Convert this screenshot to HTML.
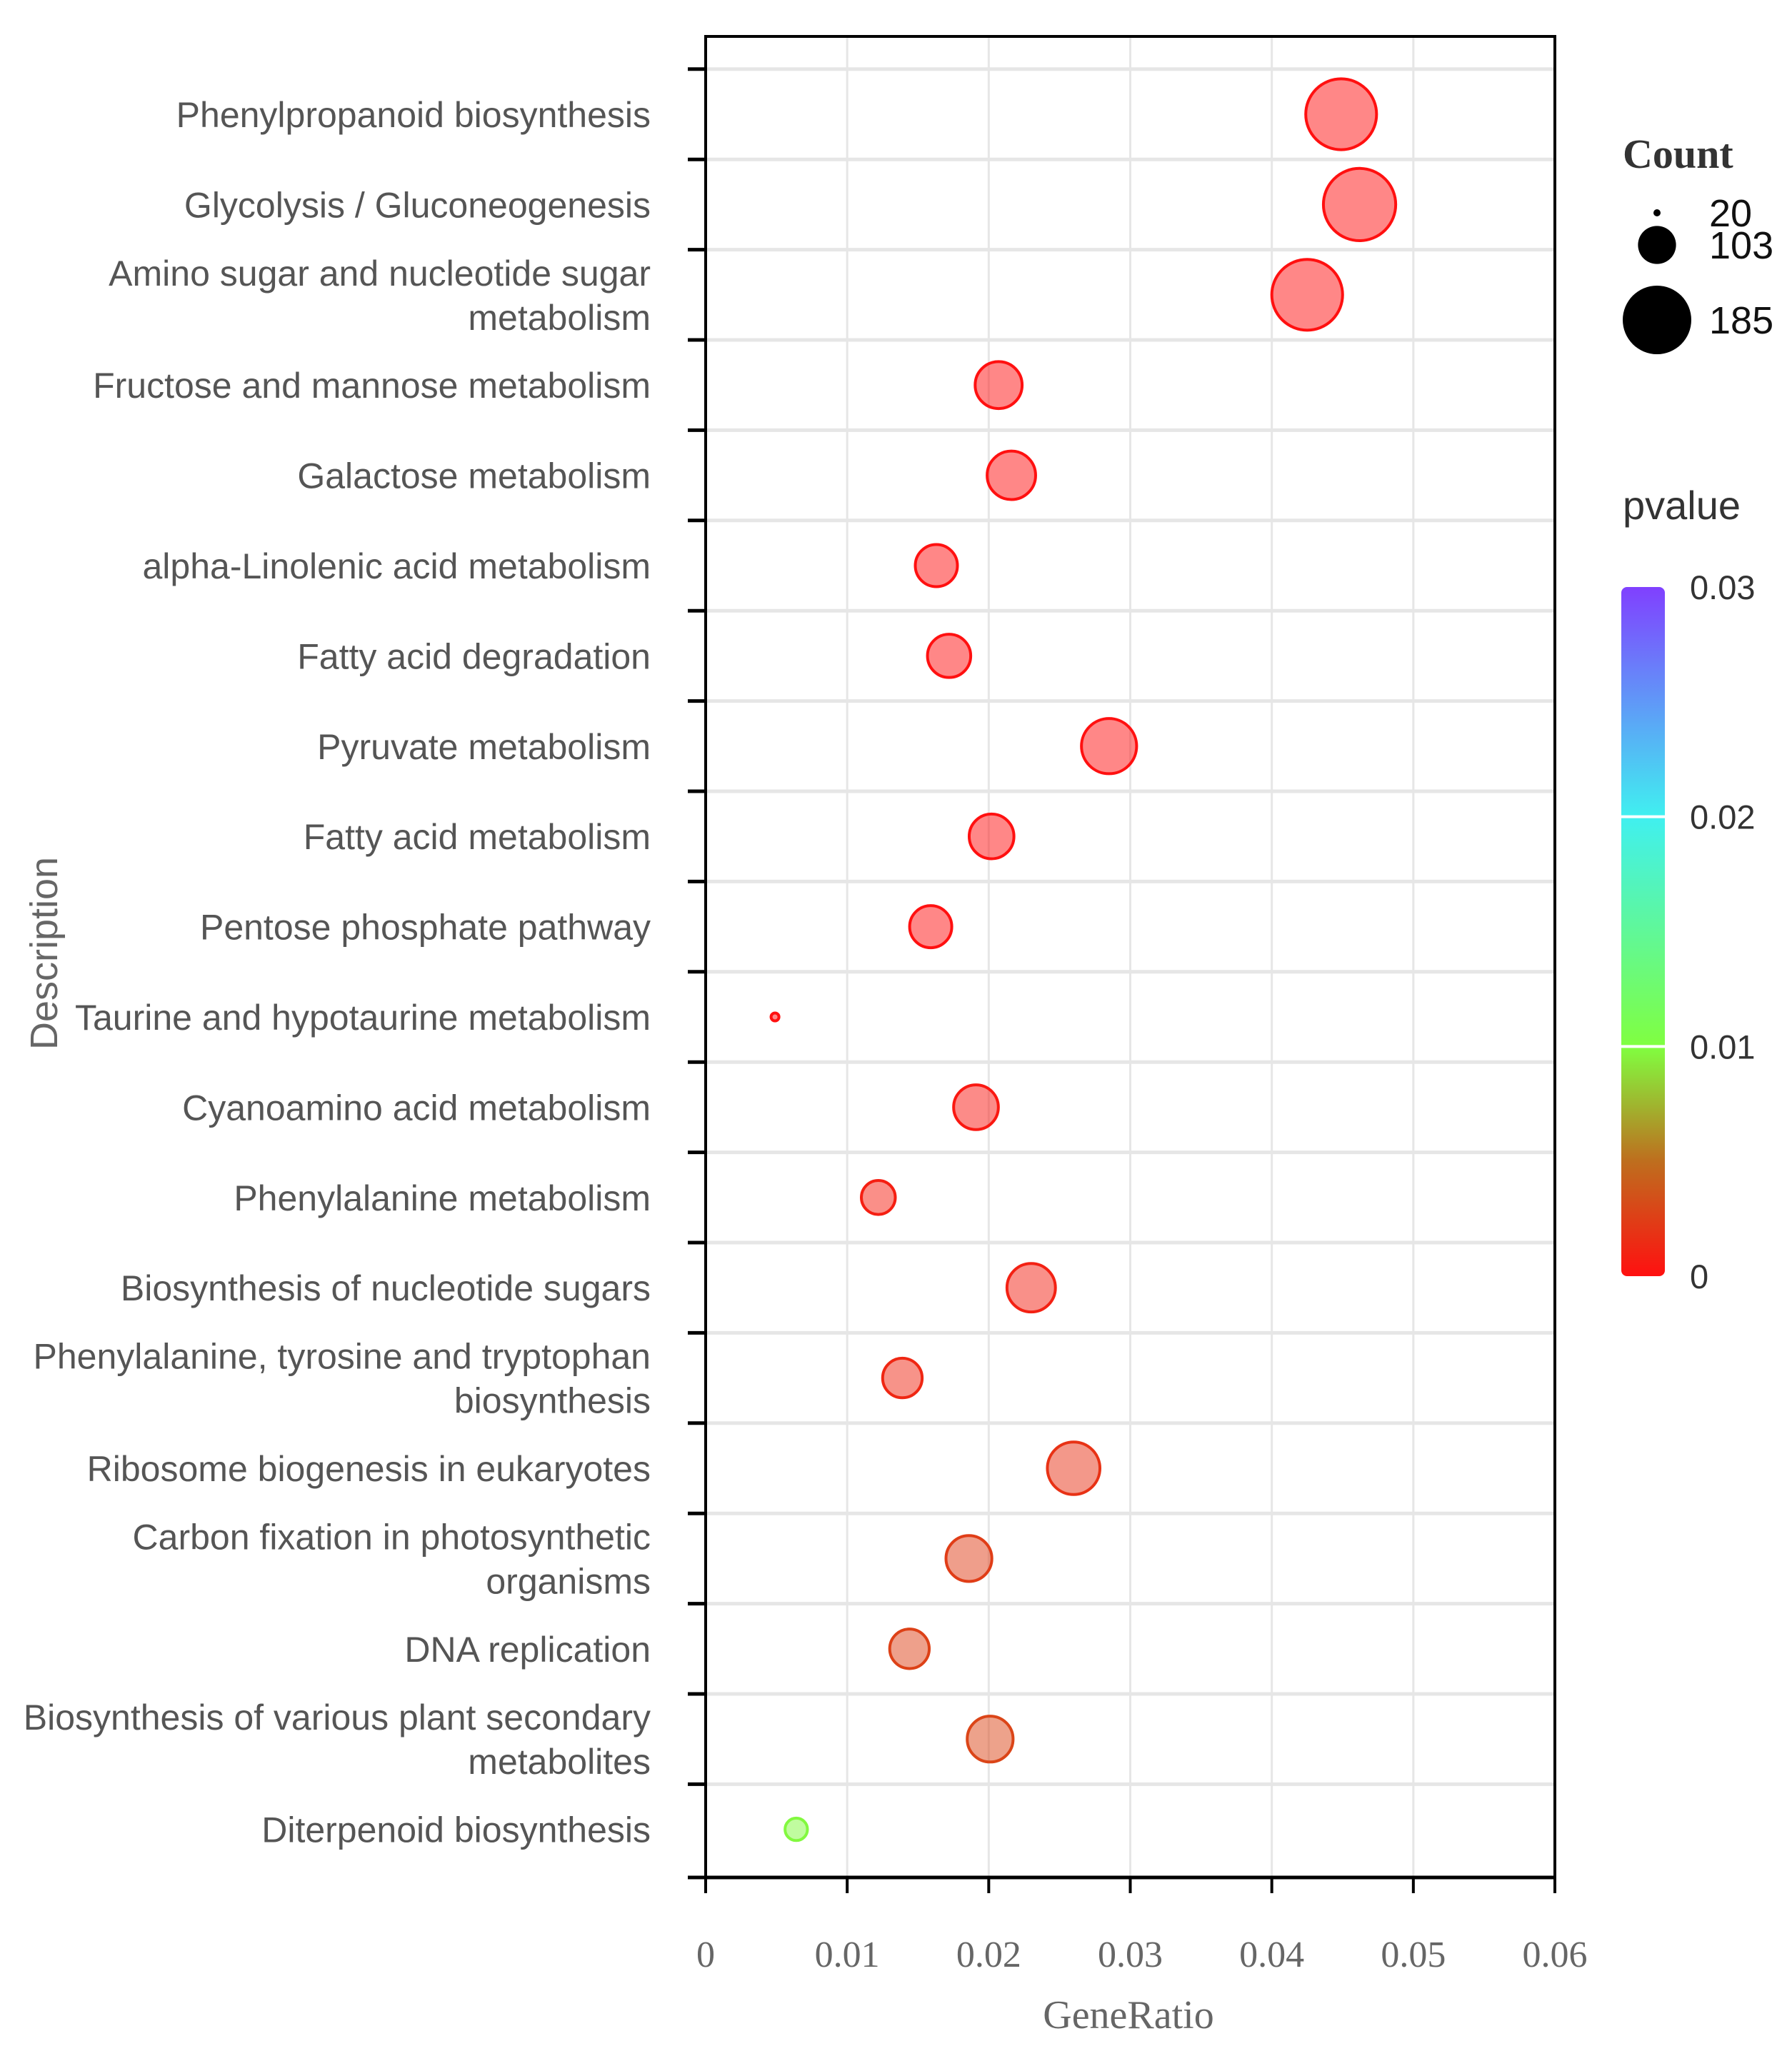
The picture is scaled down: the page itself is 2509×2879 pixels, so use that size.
<!DOCTYPE html>
<html><head><meta charset="utf-8"><style>html,body{margin:0;padding:0;background:#fff}svg{display:block}</style></head>
<body>
<svg id="chart" width="2509" height="2879" viewBox="0 0 2509 2879" xmlns="http://www.w3.org/2000/svg"></svg>
<script>
const categories = ["Phenylpropanoid biosynthesis","Glycolysis / Gluconeogenesis","Amino sugar and nucleotide sugar|metabolism","Fructose and mannose metabolism","Galactose metabolism","alpha-Linolenic acid metabolism","Fatty acid degradation","Pyruvate metabolism","Fatty acid metabolism","Pentose phosphate pathway","Taurine and hypotaurine metabolism","Cyanoamino acid metabolism","Phenylalanine metabolism","Biosynthesis of nucleotide sugars","Phenylalanine, tyrosine and tryptophan|biosynthesis","Ribosome biogenesis in eukaryotes","Carbon fixation in photosynthetic|organisms","DNA replication","Biosynthesis of various plant secondary|metabolites","Diterpenoid biosynthesis"];
const geneRatio = [0.0449,0.0462,0.0425,0.0207,0.0216,0.0163,0.0172,0.0285,0.0202,0.0159,0.0049,0.0191,0.0122,0.0230,0.0139,0.0260,0.0186,0.0144,0.0201,0.0064];
const counts = [191,195,191,127,131,114,117,149,121,114,22,121,92,131,107,142,124,107,124,61];
const pvalues = [0,0,0,0,0,0,0,0,0,0,0,0.0004,0.0008,0.0009,0.0012,0.0018,0.0024,0.0026,0.0028,0.0098];
const xTicks = [0,0.01,0.02,0.03,0.04,0.05,0.06];
const xTickLabels = ["0","0.01","0.02","0.03","0.04","0.05","0.06"];
const sizeLegend = [20,103,185];
const pTicks = [0,0.01,0.02,0.03];
const pTickLabels = ["0","0.01","0.02","0.03"];

const NS="http://www.w3.org/2000/svg";
const svg=document.getElementById('chart');
function el(t,a,p){const e=document.createElementNS(NS,t);for(const k in a)e.setAttribute(k,a[k]);(p||svg).appendChild(e);return e;}
const L=988,R=2177,T=51,B=2629;
const xS=v=>L+(v-0)/(0.06)*(R-L);
const yC=i=>160+i*126.4;
const rS=c=>5+(c-20)*0.2606;
const stops=[[0,[255,16,16]],[0.005,[190,110,30]],[0.01,[128,255,64]],[0.02,[64,240,240]],[0.03,[128,64,255]]];
function col(p){for(let i=0;i<stops.length-1;i++){const [a,ca]=stops[i],[b,cb]=stops[i+1];if(p<=b){const t=(p-a)/(b-a);return 'rgb('+ca.map((v,k)=>Math.round(v+(cb[k]-v)*t)).join(',')+')';}}return 'rgb(128,64,255)';}

const grid=el('g',{});


xTicks.forEach(v=>{const l=el('line',{x1:xS(v),x2:xS(v),y1:T,y2:B,stroke:'#e6e6e6','stroke-width':3},grid);

});
for(let i=0;i<categories.length;i++){const y=yC(i)-63.2;const l=el('line',{x1:L,x2:R,y1:y,y2:y,stroke:'#e6e6e6','stroke-width':5},grid);


const tk=el('line',{x1:963,x2:L,y1:y,y2:y,stroke:'#000','stroke-width':5});

}
const fr=el('rect',{x:L,y:T,width:R-L,height:B-T,fill:'none',stroke:'#000','stroke-width':4});


const bl=el('line',{x1:963,x2:R,y1:B,y2:B,stroke:'#000','stroke-width':5});


xTicks.forEach((v,i)=>{const t=el('line',{x1:xS(v),x2:xS(v),y1:B,y2:B+22,stroke:'#000','stroke-width':4});


const tx=el('text',{x:xS(v),y:2754,'text-anchor':'middle','font-family':'Liberation Serif, serif','font-size':52,fill:'#666'});
tx.textContent=xTickLabels[i];

});
const xt=el('text',{x:1580,y:2840,'text-anchor':'middle','font-family':'Liberation Serif, serif','font-size':56,fill:'#666'});
xt.textContent='GeneRatio';


const yt=el('text',{x:0,y:0,'text-anchor':'middle','font-family':'Liberation Sans, sans-serif','font-size':54,fill:'#666',transform:'translate(80,1335) rotate(-90)'});
yt.textContent='Description';


categories.forEach((c,i)=>{const lines=c.split('|');const y=yC(i);
lines.forEach((ln,j)=>{const yy=lines.length===1?y+18:y+18+(j===0?-31:31);
const t=el('text',{x:911,y:yy,'text-anchor':'end','font-family':'Liberation Sans, sans-serif','font-size':50,fill:'#555'});
t.textContent=ln;

});});
categories.forEach((c,i)=>{const cc=col(pvalues[i]);
const d=el('circle',{cx:xS(geneRatio[i]),cy:yC(i),r:rS(counts[i]),fill:cc,'fill-opacity':0.5,stroke:cc,'stroke-width':4});

});
const ct=el('text',{x:2272,y:235,'font-family':'Liberation Serif, serif','font-weight':'bold','font-size':58,fill:'#333'});
ct.textContent='Count';


const ly=[298,343,448];
sizeLegend.forEach((c,i)=>{const d=el('circle',{cx:2320,cy:ly[i],r:rS(c),fill:'#000'});


const t=el('text',{x:2393,y:ly[i]+19,'font-family':'Liberation Sans, sans-serif','font-size':54,fill:'#111'});
t.textContent=String(c);

});
const pt=el('text',{x:2272,y:727,'font-family':'Liberation Sans, sans-serif','font-size':56,fill:'#333'});
pt.textContent='pvalue';


const defs=el('defs',{});
const lg=el('linearGradient',{id:'cg',x1:0,y1:1,x2:0,y2:0},defs);
stops.forEach(s=>el('stop',{offset:s[0]/0.03,'stop-color':'rgb('+s[1].join(',')+')'},lg));
const cbT=822,cbB=1787;const pY=p=>cbB-(p/0.03)*(cbB-cbT);
const cb=el('rect',{x:2270,y:cbT,width:61,height:cbB-cbT,rx:8,fill:'url(#cg)'});


pTicks.forEach((p,i)=>{if(p>0&&p<0.03){const l=el('line',{x1:2270,x2:2331,y1:pY(p),y2:pY(p),stroke:'#fff','stroke-width':4});

}
const t=el('text',{x:2366,y:pY(p)+17,'font-family':'Liberation Sans, sans-serif','font-size':47,fill:'#333'});
t.textContent=pTickLabels[i];

});
</script>
</body></html>
